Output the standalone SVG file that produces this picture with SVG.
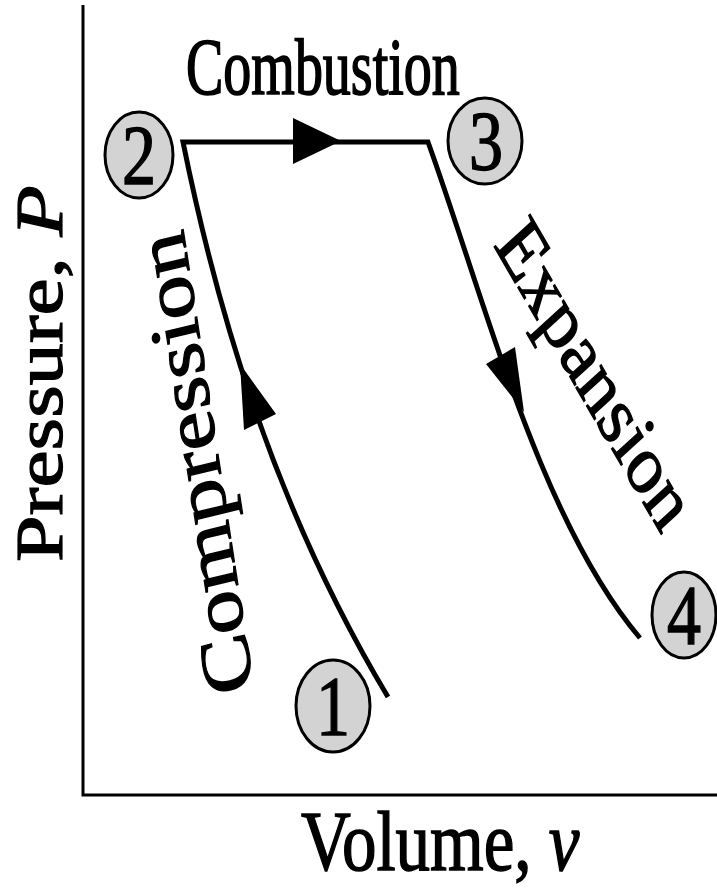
<svg xmlns="http://www.w3.org/2000/svg" width="717" height="888" viewBox="0 0 717 888">
<style>
.t{font-family:"Liberation Serif","Times New Roman",serif;fill:#000;stroke:#000;stroke-width:1.2}
.node ellipse{fill:#d3d3d3;stroke:#000;stroke-width:3}
.ln{fill:none;stroke:#000;stroke-width:5;stroke-linejoin:miter}
.ax{fill:none;stroke:#000;stroke-width:3}
.ah{fill:#000;stroke:none}
</style>
<rect width="717" height="888" fill="#fff"/>
<g id="axes">
<path class="ax" d="M83,5 V795 H717"/>
</g>
<g id="connectors">
<path class="ln" d="M388,697 C270,500 215,300 183,142 L428,142 C485,300 540,520 640,638"/>
<polygon class="ah" points="293,118 293,164 341,141"/>
<polygon class="ah" points="240,364 244,430 276,414"/>
<polygon class="ah" points="486,364 515,347 524,412"/>
</g>
<g id="node1" class="node"><ellipse cx="333" cy="706" rx="37" ry="46"/><text class="t" font-size="68" text-anchor="middle" transform="translate(333,735) scale(1,1.25)">1</text></g>
<g id="node2" class="node"><ellipse cx="139" cy="155" rx="34" ry="43"/><text class="t" font-size="68" text-anchor="middle" transform="translate(139,184) scale(1,1.25)">2</text></g>
<g id="node3" class="node"><ellipse cx="485" cy="141" rx="37" ry="43"/><text class="t" font-size="68" text-anchor="middle" transform="translate(486,170) scale(1,1.25)">3</text></g>
<g id="node4" class="node"><ellipse cx="684" cy="615" rx="32" ry="43"/><text class="t" font-size="68" text-anchor="middle" transform="translate(684,644) scale(1,1.25)">4</text></g>
<g id="labels">
<text class="t" font-size="56" transform="translate(186,94) scale(1,1.43)">Combustion</text>
<text class="t" font-size="69" transform="translate(301,870) scale(1,1.23)">Volume, <tspan font-style="italic">v</tspan></text>
<text class="t" font-size="67" transform="translate(62,562) scale(1,1.25) rotate(-90)">Pressure, <tspan font-style="italic">P</tspan></text>
<text class="t" font-size="71" transform="translate(254,688) scale(1,1.25) rotate(-100.9)">Compression</text>
<text class="t" font-size="68" transform="translate(493,245) scale(1,1.25) rotate(54)">Expansion</text>
</g>
</svg>
